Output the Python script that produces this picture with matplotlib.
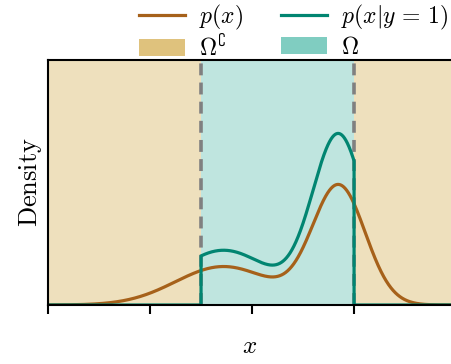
import numpy as np
import matplotlib
matplotlib.use('Agg')
import matplotlib.pyplot as plt
from matplotlib.lines import Line2D
from matplotlib.patches import Patch

plt.rcParams['mathtext.fontset'] = 'cm'

# Gaussian-mixture components of p(x)
means = [1.72, 2.85]
sds = [0.47, 0.26]
weights = [0.37, 0.63]
omega = [1.5, 3.0]          # region Omega
x_ticks = [0, 1, 2, 3]
x_range = [0.0, 3.95]
y_range = [0.0, 2.0]

c_px = '#a6611a'
c_cond = '#018571'
c_out = '#dfc27d'
c_in = '#80cdc1'


def density(x):
    x = np.asarray(x, dtype=float)
    return sum(w * np.exp(-0.5 * ((x - m) / s) ** 2) / (s * np.sqrt(2 * np.pi))
               for m, s, w in zip(means, sds, weights))


x = np.linspace(x_range[0], x_range[1], 2000)
px = density(x)

xin = np.linspace(omega[0], omega[1], 1000)
Z = np.trapezoid(density(xin), xin)
xl = x[x < omega[0]]
xr = x[x > omega[1]]
xc = np.concatenate([xl, [omega[0]], xin, [omega[1]], xr])
yc = np.concatenate([np.zeros_like(xl), [0.0], density(xin) / Z, [0.0], np.zeros_like(xr)])

W, H = 451, 364
fig = plt.figure(figsize=(W / 100, H / 100), dpi=100)
ax = fig.add_axes([48 / W, (H - 305) / H, (451 - 48) / W, 245 / H])

ax.axvspan(x_range[0], omega[0], color=c_out, alpha=0.5, lw=0, zorder=0)
ax.axvspan(omega[1], x_range[1], color=c_out, alpha=0.5, lw=0, zorder=0)
ax.axvspan(omega[0], omega[1], color=c_in, alpha=0.5, lw=0, zorder=0)
for b in omega:
    ax.axvline(b, color='#808080', lw=2.6, linestyle=(0, (3.3, 2.0)), zorder=1)

ax.plot(x, px, color=c_px, lw=2.3, zorder=2)
ax.plot(xc, yc, color=c_cond, lw=2.3, zorder=2.2)

ax.set_xlim(*x_range)
ax.set_ylim(*y_range)
ax.set_xticks(x_ticks)
ax.set_xticklabels([])
ax.set_yticks([])
ax.tick_params(axis='x', direction='out', length=6.5, width=1.5)
for sp in ['left', 'bottom', 'top']:
    ax.spines[sp].set_linewidth(1.5)
ax.spines['right'].set_visible(False)

ax.set_xlabel('$x$', fontsize=18, labelpad=11)
ax.set_ylabel(r'$\mathrm{Density}$', fontsize=19, labelpad=3)

handles = [Line2D([], [], color=c_px, lw=2.3),
           Patch(facecolor=c_out, edgecolor='none'),
           Line2D([], [], color=c_cond, lw=2.3),
           Patch(facecolor=c_in, edgecolor='none')]
labels = ['$p(x)$', r'$\Omega^{\complement}$', r'$p(x|y\,=\,1)$', r'$\Omega$']
fig.legend(handles, labels, ncol=2, loc='upper right', bbox_to_anchor=(1.0, 0.998),
           frameon=False, fontsize=17, handlelength=1.95, handleheight=0.75,
           handletextpad=0.6, columnspacing=1.6, labelspacing=0.1,
           borderpad=0.0, borderaxespad=0.1)

fig.savefig('out.png', dpi=100)
